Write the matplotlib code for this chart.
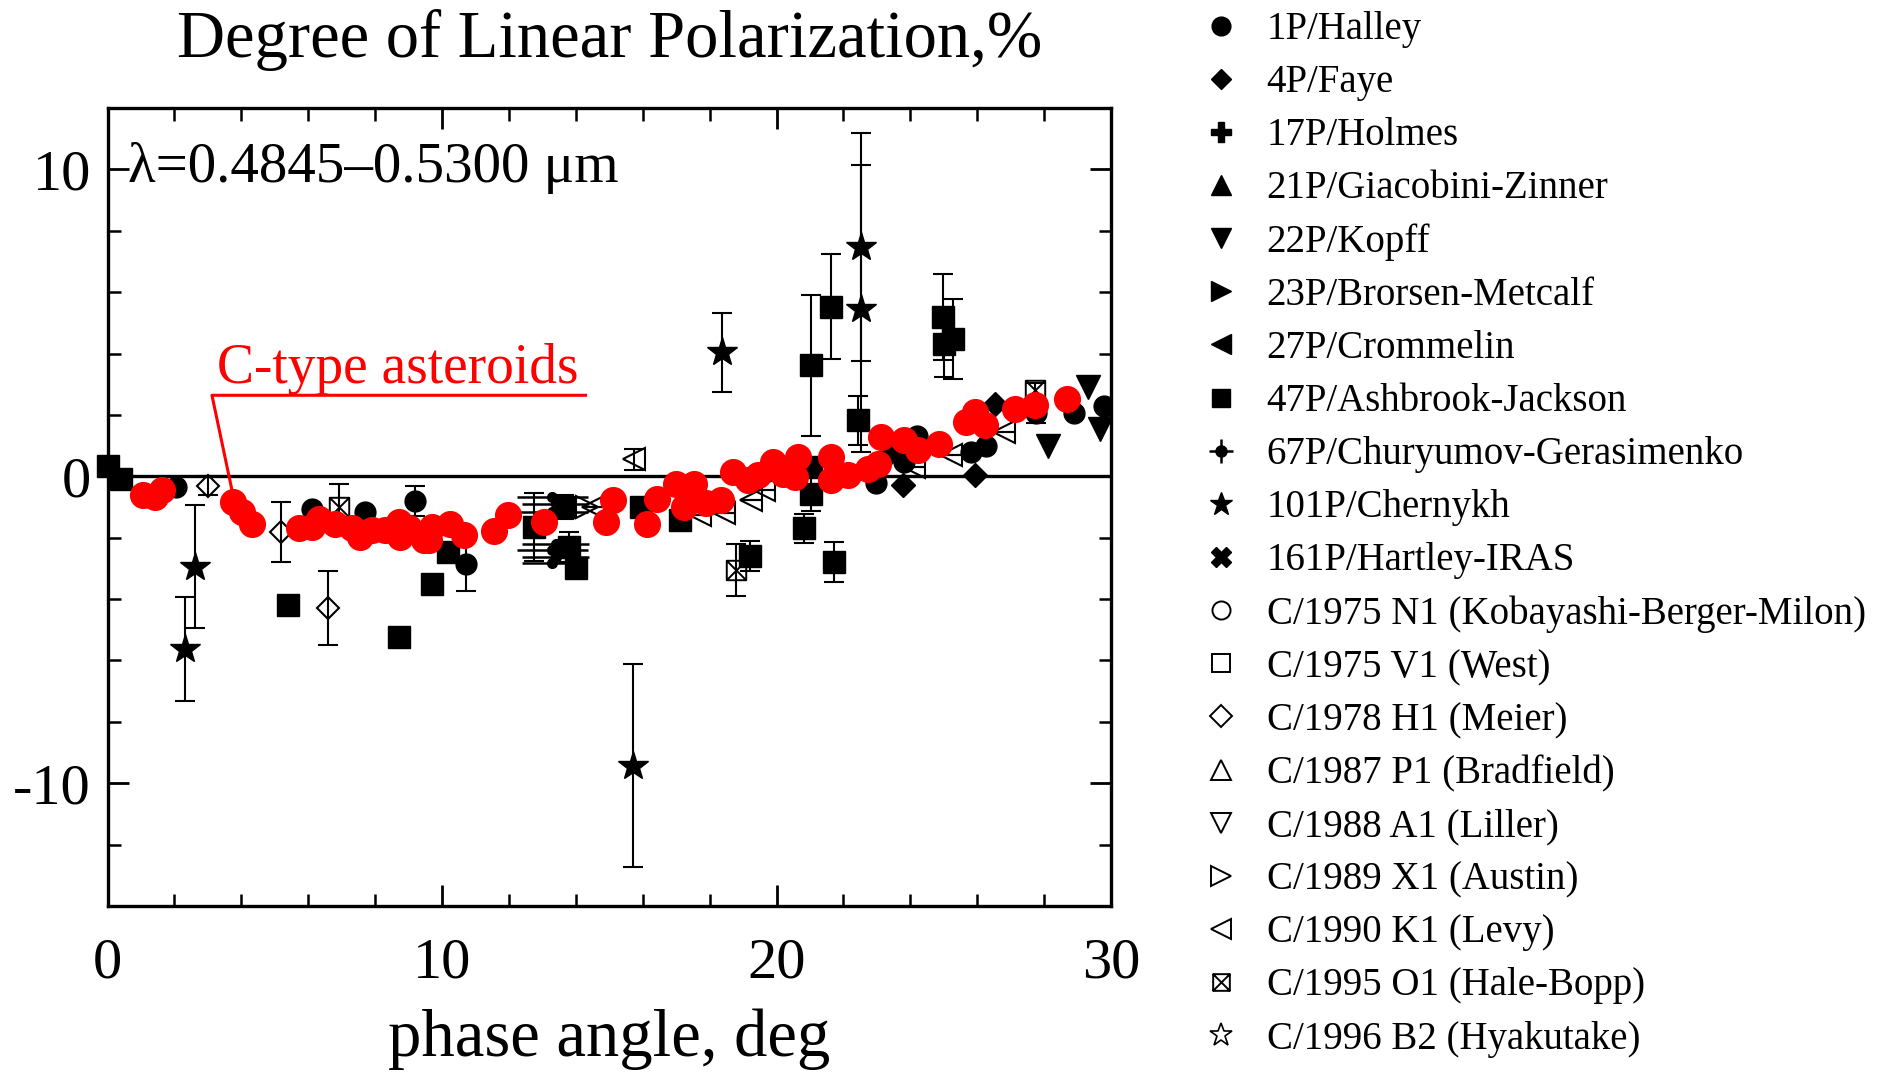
import matplotlib
matplotlib.use("Agg")
import matplotlib.pyplot as plt
from matplotlib.lines import Line2D
from matplotlib.path import Path
from matplotlib.ticker import MultipleLocator
from matplotlib.legend_handler import HandlerTuple

plt.rcParams['font.family'] = ['Liberation Serif', 'DejaVu Serif']
plt.rcParams['axes.unicode_minus'] = False

# ---------------- data ----------------
halley_x = [2.05, 6.12, 7.69, 9.2, 10.72, 22.98, 23.8, 24.2, 25.82, 26.27, 27.75, 28.9, 29.8]
halley_y = [-0.35, -1.05, -1.17, -0.8, -2.85, -0.23, 0.45, 1.3, 0.79, 0.98, 2.05, 2.05, 2.28]
halley_e = [0, 0, 0, 0.5, 0.9, 0, 0, 0, 0, 0, 0.3, 0, 0]

faye_x = [23.42, 23.78, 25.92, 26.52]
faye_y = [0.79, -0.29, 0.03, 2.37]

kopff_x = [28.12, 29.32, 29.66]
kopff_y = [1.0, 2.91, 1.55]

ashbrook_x = [0.0, 0.4, 5.39, 8.71, 9.71, 10.19, 12.75, 13.64, 13.8, 14.0, 15.94, 17.1,
              19.2, 20.83, 21.04, 21.04, 21.04, 21.63, 21.73, 22.43, 24.97, 25.02, 25.27]
ashbrook_y = [0.35, -0.1, -4.2, -5.25, -3.52, -2.47, -1.65, -1.0, -2.3, -3.0, -1.0, -1.43,
              -2.6, -1.7, 3.62, -0.57, 0.3, 5.52, -2.79, 1.82, 5.19, 4.32, 4.48]
ashbrook_e = [0, 0, 0, 0, 0, 0, 1.1, 0.4, 0.5, 0, 0, 0,
              0.5, 0.47, 2.3, 0.55, 0.3, 1.71, 0.65, 0.8, 1.4, 1.1, 1.3]

cg_x = [13.3, 13.4, 13.3, 13.4, 13.3, 13.4, 13.3]
cg_y = [-0.67, -0.89, -1.16, -2.19, -2.41, -2.63, -2.84]
cg_xe = [1.05, 1.0, 1.05, 1.0, 1.05, 1.0, 0.9]

chernykh_x = [2.3, 2.62, 15.72, 18.38, 22.53, 22.53]
chernykh_y = [-5.62, -2.95, -9.43, 4.04, 7.47, 5.46]
chernykh_e = [1.7, 2.0, 3.3, 1.28, 3.7, 4.67]

meier_x = [3.0, 5.18, 6.6]
meier_y = [-0.3, -1.81, -4.3]
meier_e = [0.3, 0.98, 1.2]

halebopp_x = [6.91, 18.8, 27.72]
halebopp_y = [-1.0, -3.06, 2.8]
halebopp_e = [0.75, 0.85, 0.25]

levy_x = [14.5, 15.74, 17.7, 18.44, 19.23, 19.63, 24.1, 25.22, 26.8]
levy_y = [-1.0, 0.55, -1.27, -1.2, -0.78, -0.46, 0.3, 0.68, 1.44]
levy_e = [0, 0.33, 0, 0, 0, 0, 0, 0, 0]

austin_x = [14.34]
austin_y = [-1.0]

ctype_x = [1.07, 1.42, 1.62, 3.76, 4.01, 4.31, 5.71, 6.11, 6.31, 6.81, 7.31, 7.56, 7.9, 8.3,
           8.7, 8.75, 9.0, 9.45, 9.6, 9.7, 10.25, 10.65, 11.55, 11.98, 13.05, 14.9, 15.1,
           16.14, 16.44, 17.0, 17.24, 17.54, 17.9, 18.34, 18.69, 19.14, 19.44, 19.89, 20.19,
           20.54, 20.64, 21.63, 21.63, 22.13, 22.73, 23.03, 23.13, 23.8, 24.23, 24.87,
           25.67, 25.92, 26.22, 27.12, 27.72, 28.67]
ctype_y = [-0.62, -0.67, -0.46, -0.84, -1.16, -1.54, -1.7, -1.65, -1.38, -1.54, -1.7, -1.98,
           -1.76, -1.76, -1.49, -1.98, -1.7, -2.08, -2.08, -1.65, -1.54, -1.92, -1.78, -1.27,
           -1.5, -1.5, -0.78, -1.54, -0.73, -0.24, -1.0, -0.24, -0.86, -0.78, 0.14, -0.13,
           0.03, 0.47, 0.09, -0.02, 0.63, 0.63, -0.13, 0.03, 0.25, 0.41, 1.28, 1.17, 0.85,
           1.06, 1.77, 2.09, 1.66, 2.2, 2.31, 2.53]

legend_labels = ["1P/Halley", "4P/Faye", "17P/Holmes", "21P/Giacobini-Zinner", "22P/Kopff",
                 "23P/Brorsen-Metcalf", "27P/Crommelin", "47P/Ashbrook-Jackson",
                 "67P/Churyumov-Gerasimenko", "101P/Chernykh", "161P/Hartley-IRAS",
                 "C/1975 N1 (Kobayashi-Berger-Milon)", "C/1975 V1 (West)", "C/1978 H1 (Meier)",
                 "C/1987 P1 (Bradfield)", "C/1988 A1 (Liller)", "C/1989 X1 (Austin)",
                 "C/1990 K1 (Levy)", "C/1995 O1 (Hale-Bopp)", "C/1996 B2 (Hyakutake)"]

# boxed-x marker
boxx = Path([(-1, -1), (1, -1), (1, 1), (-1, 1), (-1, -1), (-1, -1), (1, 1), (-1, 1), (1, -1)],
            [Path.MOVETO, Path.LINETO, Path.LINETO, Path.LINETO, Path.CLOSEPOLY,
             Path.MOVETO, Path.LINETO, Path.MOVETO, Path.LINETO])

fig = plt.figure(figsize=(18.9, 10.74), dpi=100)
ax = fig.add_axes([107.6 / 1890, 1 - 906 / 1074, (1111 - 107.6) / 1890, (906 - 108) / 1074])

ebkw = dict(ecolor='k', elinewidth=1.5, capsize=7.5, capthick=1.5, linestyle='none')

ax.axhline(0, color='k', lw=2.4, zorder=1.5)

ax.errorbar(cg_x, cg_y, xerr=cg_xe, yerr=0.15, fmt='o', color='k', ms=7, zorder=2,
            ecolor='k', elinewidth=1.8, capsize=0, linestyle='none')
ax.errorbar(halley_x, halley_y, yerr=halley_e, fmt='o', color='k', ms=15, zorder=2, **ebkw)
ax.plot(faye_x, faye_y, 'D', color='k', ms=12.5, ls='none', zorder=2)
ax.plot(kopff_x, kopff_y, 'v', color='k', ms=17, ls='none', zorder=2)
ax.errorbar(ashbrook_x, ashbrook_y, yerr=ashbrook_e, fmt='s', color='k', ms=15.5, zorder=2,
            clip_on=False, **ebkw)
ax.errorbar(chernykh_x, chernykh_y, yerr=chernykh_e, fmt='*', color='k', ms=22, zorder=2, **ebkw)
ax.errorbar(meier_x, meier_y, yerr=meier_e, fmt='D', mfc='none', mec='k', mew=1.5, ms=11.5,
            zorder=2, **ebkw)
ax.errorbar(halebopp_x, halebopp_y, yerr=halebopp_e, fmt='none', zorder=2, **ebkw)
ax.plot(halebopp_x, halebopp_y, marker=boxx, ls='none', mfc='none', mec='k', mew=1.4, ms=14,
        zorder=2)
ax.errorbar(levy_x, levy_y, yerr=levy_e, fmt='<', mfc='none', mec='k', mew=1.5, ms=16,
            zorder=2, **ebkw)
ax.plot(austin_x, austin_y, '>', mfc='none', mec='k', mew=1.5, ms=16, ls='none', zorder=2)

ax.plot(ctype_x, ctype_y, 'o', color='#ff0000', ms=18.5, ls='none', zorder=3)

# annotation
ax.text(3.27, 3.03, "C-type asteroids", color='#ff0000', fontsize=40, va='baseline', ha='left')
ax.plot([14.29, 3.12, 3.72], [2.64, 2.64, -0.46], color='#ff0000', lw=2.2, zorder=3)
ax.text(0.6, 9.58, "λ=0.4845–0.5300 μm", fontsize=41, va='baseline', ha='left')

ax.set_xlim(0, 30)
ax.set_ylim(-14, 12)
ax.set_xticks([0, 10, 20, 30])
ax.set_yticks([-10, 0, 10])
ax.xaxis.set_minor_locator(MultipleLocator(2))
ax.yaxis.set_minor_locator(MultipleLocator(2))
ax.tick_params(which='both', direction='in', top=True, right=True, labelsize=42)
ax.tick_params(which='major', length=15, width=2)
ax.tick_params(which='minor', length=9, width=1.8)
ax.tick_params(axis='x', pad=23)
ax.tick_params(axis='y', pad=12)
for s in ax.spines.values():
    s.set_linewidth(2.4)

ax.set_xlabel("phase angle, deg", fontsize=48)
ax.xaxis.label.set_verticalalignment('baseline')
ax.xaxis.set_label_coords(0.5, (906 - 1056) / 798)
ax.set_title("Degree of Linear Polarization,%", fontsize=48, pad=0,
             y=(906 - 56.7) / 798)

# legend proxies
def mk(marker, filled=True, ms=13, mew=1.4):
    if filled:
        return Line2D([], [], marker=marker, color='k', ls='none', ms=ms)
    return Line2D([], [], marker=marker, mfc='none', mec='k', mew=mew, ls='none', ms=ms)

cg_handle = (Line2D([], [], marker='o', color='k', ls='none', ms=8),
             Line2D([], [], marker='+', color='k', ls='none', ms=17, mew=1.8))
handles = [mk('o', ms=13.5), mk('D', ms=10.5), mk('P', ms=14), mk('^', ms=14), mk('v', ms=14),
           mk('>', ms=14), mk('<', ms=14), mk('s', ms=13), cg_handle, mk('*', ms=17),
           mk('X', ms=14), mk('o', False, 13), mk('s', False, 13), mk('D', False, 11),
           mk('^', False, 14), mk('v', False, 14), mk('>', False, 14), mk('<', False, 14),
           mk(boxx, False, 12), mk('*', False, 17, 1.2)]

fig.legend(handles, legend_labels, loc='upper left', bbox_to_anchor=(1201.6 / 1890, 0.9896),
           frameon=False, fontsize=28, borderpad=0, borderaxespad=0, handlelength=1.0,
           handletextpad=0.67, labelspacing=0.413,
           handler_map={tuple: HandlerTuple(ndivide=1)})

fig.savefig("out.png", dpi=100)
